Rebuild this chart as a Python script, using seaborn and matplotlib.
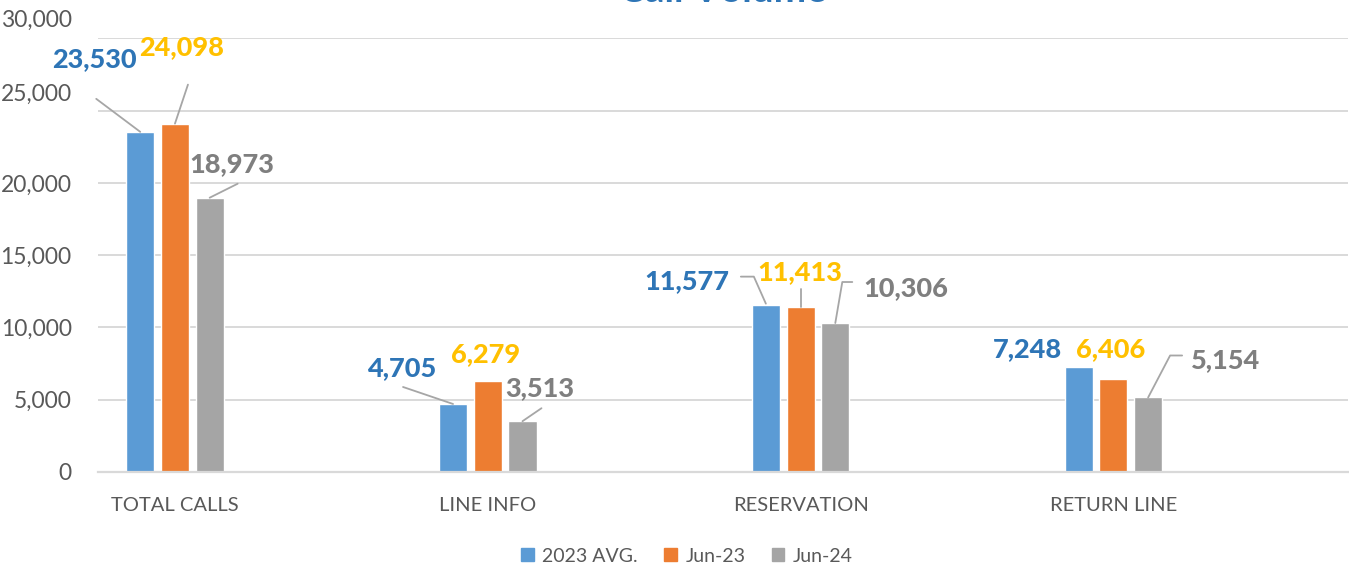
import matplotlib
matplotlib.use("Agg")
import matplotlib.pyplot as plt
import matplotlib.transforms as mtransforms
import numpy as np
import pandas as pd
import seaborn as sns

# chart data
categories = ["TOTAL CALLS", "LINE INFO", "RESERVATION", "RETURN LINE"]
series = ["2023 AVG.", "Jun-23", "Jun-24"]
avg_2023 = [23530, 4705, 11577, 7248]
jun_23 = [24098, 6279, 11413, 6406]
jun_24 = [18973, 3513, 10306, 5154]
y_ticks = [0, 5000, 10000, 15000, 20000, 25000, 30000]

bar_colors = ["#5B9BD5", "#ED7D31", "#A5A5A5"]
label_colors = ["#2E75B6", "#FFC000", "#7F7F7F"]

df = pd.DataFrame({
    "category": categories * 3,
    "series": [s for s in series for _ in categories],
    "calls": avg_2023 + jun_23 + jun_24,
})

# label placement in image pixels relative to bar top centre (x right, y down)
# text: centre of the label, leader: polyline from label to bar (None = no leader)
label_layout = {
    ("2023 AVG.", 0): dict(text=(-46, -73), leader=[(-44, -33), (0, 0)]),
    ("Jun-23", 0): dict(text=(7, -77), leader=[(13, -39), (0, 0)]),
    ("Jun-24", 0): dict(text=(22, -34), leader=[(28, -14), (0, 0)]),
    ("2023 AVG.", 1): dict(text=(-51, -36), leader=[(-50, -17), (0, 0)]),
    ("Jun-23", 1): dict(text=(-2, -27), leader=None),
    ("Jun-24", 1): dict(text=(17, -33), leader=[(19, -13), (0, 0)]),
    ("2023 AVG.", 2): dict(text=(-79, -24), leader=[(-25, -28), (-12, -28), (0, -1)]),
    ("Jun-23", 2): dict(text=(-1, -35), leader=[(0, -18), (0, 0)]),
    ("Jun-24", 2): dict(text=(70, -35), leader=[(17, -41), (7, -41), (0, 0)]),
    ("2023 AVG.", 3): dict(text=(-51, -18), leader=None),
    ("Jun-23", 3): dict(text=(-3, -30), leader=None),
    ("Jun-24", 3): dict(text=(77, -37), leader=[(34, -42), (22, -42), (0, 0)]),
}
# the top two tick labels sit higher than their gridlines in the source
tick_shift = {25000: 18, 30000: 20}

sns.set_style("white")
plt.rcParams["font.family"] = ["Lato", "DejaVu Sans"]

W, H = 1349, 571
fig = plt.figure(figsize=(W / 100, H / 100), dpi=100)
ax = fig.add_axes([98 / W, 1 - 472 / H, 1250 / W, (472 - 38.3) / H])

sns.barplot(
    data=df, x="category", y="calls", hue="series",
    palette=bar_colors, width=0.333, gap=0.19, ax=ax, legend=False,
    saturation=1,
)

ax.set_xlim(-0.246, 3.75)
ax.set_ylim(0, 30000)
ax.set_yticks(y_ticks)
ax.yaxis.set_major_formatter(matplotlib.ticker.StrMethodFormatter("{x:,.0f}"))
ax.grid(axis="y", color="#D9D9D9", linewidth=1.4)
ax.set_axisbelow(True)
for side in ["top", "right", "left"]:
    ax.spines[side].set_visible(False)
ax.spines["bottom"].set_color("#D9D9D9")
ax.spines["bottom"].set_linewidth(1.6)
ax.tick_params(axis="y", length=0, pad=19, labelsize=16.5, labelcolor="#595959")
ax.tick_params(axis="x", length=0, pad=18, labelsize=14.5, labelcolor="#595959")
ax.set_xlabel("")
ax.set_ylabel("")

for val, lab in zip(y_ticks, ax.get_yticklabels()):
    if val in tick_shift:
        lab.set_transform(lab.get_transform() + mtransforms.Affine2D().translate(0, tick_shift[val]))

# value labels with leader lines
inv = ax.transData.inverted()
for s_idx, (name, container) in enumerate(zip(series, ax.containers)):
    for c_idx, bar in enumerate(container.patches):
        x = bar.get_x() + bar.get_width() / 2
        h = bar.get_height()
        px, py = ax.transData.transform((x, h))
        lay = label_layout[(name, c_idx)]
        tx, ty = lay["text"]
        tdx, tdy = inv.transform((px + tx, py - ty))
        ax.text(tdx, tdy, f"{h:,.0f}", ha="center", va="center",
                fontsize=19.5, fontweight="black", color=label_colors[s_idx],
                clip_on=False)
        if lay["leader"]:
            pts = np.array([inv.transform((px + dx, py - dy)) for dx, dy in lay["leader"]])
            ax.plot(pts[:, 0], pts[:, 1], color="#A6A6A6", linewidth=1.3,
                    clip_on=False, zorder=3)

# title, mostly cut off at top edge as in the source
fig.text(723 / W, 1 - 1.5 / H, "Call Volume", ha="center", va="baseline",
         fontsize=28, fontweight="bold", color="#2E75B6")

handles = [matplotlib.patches.Patch(color=c) for c in bar_colors]
fig.legend(handles, series, loc="center", bbox_to_anchor=(687 / W, 1 - 556 / H),
           ncol=3, frameon=False, fontsize=14, handlelength=0.65,
           handleheight=0.65, handletextpad=0.45, columnspacing=1.35,
           labelcolor="#595959")

fig.savefig("out.png", dpi=100)
